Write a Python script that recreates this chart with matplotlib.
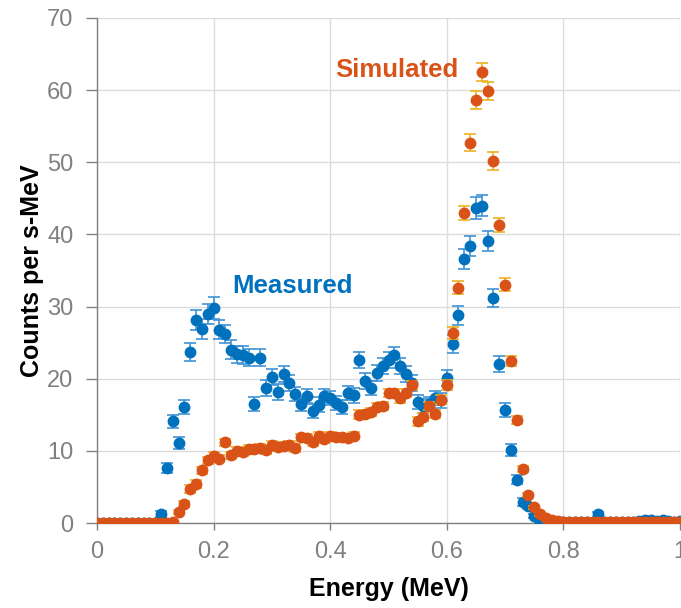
import numpy as np
import matplotlib
matplotlib.use("Agg")
import matplotlib.pyplot as plt

plt.rcParams['font.family'] = ['Liberation Sans', 'DejaVu Sans']

# Energy bins (MeV)
energy = [round(0.01 * i, 2) for i in range(101)]

# Measured spectrum, counts per s-MeV
measured = [
    0, 0, 0, 0, 0, 0, 0, 0, 0, 0, 0,
    1.3, 7.6, 14.1, 11.1, 16.1, 23.7, 28.1, 26.9, 29.0, 29.8,
    26.8, 26.2, 24.0, 23.4, 23.3, 22.9, 16.5, 22.9, 18.7, 20.2,
    18.2, 20.7, 19.4, 17.9, 16.5, 17.6, 15.5, 16.4, 17.6, 17.3,
    16.6, 16.1, 18.0, 17.7, 22.6, 19.7, 18.7, 20.8, 21.8, 22.6,
    23.3, 21.8, 20.7, 19.4, 16.8, 16.2, 16.5, 17.3, 17.0, 20.1,
    24.8, 28.8, 36.6, 38.4, 43.7, 44.0, 39.1, 31.2, 22.0, 15.7,
    10.1, 6.0, 2.9, 2.4, 1.0, 0.3, 0.2, 0.2, 0.2, 0.2,
    0.2, 0.2, 0.2, 0.2, 0.2, 1.2, 0.1, 0.1, 0.1, 0.1,
    0.1, 0.1, 0.3, 0.4, 0.4, 0.3, 0.4, 0.3, 0.2, 0.3,
]
measured_err = [
    0, 0, 0, 0, 0, 0, 0, 0, 0, 0, 0,
    0.4, 0.7, 0.9, 0.8, 1.0, 1.2, 1.4, 1.4, 1.4, 1.5,
    1.3, 1.3, 1.3, 1.2, 1.2, 1.2, 1.0, 1.2, 1.1, 1.1,
    1.1, 1.1, 1.1, 1.0, 1.0, 1.0, 1.0, 1.0, 1.0, 1.0,
    1.0, 1.0, 1.0, 1.0, 1.1, 1.1, 1.0, 1.1, 1.1, 1.1,
    1.1, 1.1, 1.1, 1.1, 1.0, 1.0, 1.0, 1.0, 1.0, 1.1,
    1.2, 1.3, 1.4, 1.4, 1.5, 1.5, 1.4, 1.3, 1.1, 1.0,
    0.8, 0.6, 0.5, 0.4, 0.3, 0.2, 0.2, 0.2, 0.2, 0.2,
    0.2, 0.2, 0.2, 0.2, 0.2, 0.3, 0.1, 0.1, 0.1, 0.1,
    0.1, 0.1, 0.2, 0.2, 0.2, 0.2, 0.2, 0.2, 0.2, 0.2,
]

# Simulated spectrum, counts per s-MeV
simulated = [
    0, 0, 0, 0, 0, 0, 0, 0, 0, 0, 0, 0, 0,
    0.2, 1.5, 2.6, 4.7, 5.4, 7.3, 8.7, 9.3,
    8.9, 11.2, 9.4, 10.0, 9.8, 10.3, 10.3, 10.4, 10.1, 10.8,
    10.5, 10.7, 10.8, 10.4, 11.9, 11.8, 11.2, 12.1, 11.6, 12.1,
    11.9, 11.9, 11.8, 12.1, 15.0, 15.1, 15.4, 16.1, 16.2, 18.0,
    18.0, 17.3, 18.0, 19.1, 14.1, 14.7, 16.2, 15.1, 17.1, 19.1,
    26.3, 32.6, 43.0, 52.7, 58.6, 62.5, 59.9, 50.2, 41.3, 33.0,
    22.5, 14.3, 7.5, 3.9, 2.2, 1.2, 0.7, 0.4, 0.3, 0.2,
    0.1, 0.1, 0.1, 0.1, 0.1, 0.1, 0.1, 0.1, 0.1, 0.1,
    0.1, 0.1, 0.1, 0.1, 0.1, 0.1, 0.1, 0.1, 0.1, 0.1,
]
simulated_err = [
    0, 0, 0, 0, 0, 0, 0, 0, 0, 0, 0, 0, 0,
    0.1, 0.3, 0.4, 0.5, 0.5, 0.5, 0.5, 0.5,
    0.5, 0.5, 0.5, 0.5, 0.5, 0.5, 0.5, 0.5, 0.5, 0.5,
    0.5, 0.5, 0.5, 0.5, 0.5, 0.5, 0.5, 0.5, 0.5, 0.5,
    0.5, 0.5, 0.5, 0.5, 0.6, 0.6, 0.6, 0.6, 0.6, 0.6,
    0.6, 0.6, 0.6, 0.6, 0.6, 0.6, 0.6, 0.6, 0.6, 0.7,
    0.8, 0.9, 1.0, 1.2, 1.25, 1.3, 1.25, 1.2, 1.0, 0.9,
    0.7, 0.6, 0.4, 0.3, 0.2, 0.2, 0.1, 0.1, 0.1, 0.1,
    0, 0, 0, 0, 0, 0, 0, 0, 0, 0,
    0, 0, 0, 0, 0, 0, 0, 0, 0, 0,
]

blue = '#0072BD'
blue_err = '#3F93D6'
orange = '#D95319'
orange_err = '#EDB120'
axis_gray = '#808080'

fig = plt.figure(figsize=(6.81, 6.08), dpi=100)
ax = fig.add_axes([97 / 681, 85 / 608, 583 / 681, 505 / 608])

ax.errorbar(energy, measured, yerr=measured_err, fmt='o', color=blue,
            ecolor=blue_err, elinewidth=1.2, capsize=4.3, capthick=1.2,
            markersize=7.5, markeredgecolor=blue, zorder=3)
ax.errorbar(energy, simulated, yerr=simulated_err, fmt='o', color=orange,
            ecolor=orange_err, elinewidth=1.2, capsize=4.3, capthick=1.2,
            markersize=7.5, markeredgecolor=orange, zorder=4)

ax.set_xlim(0, 1)
ax.set_ylim(0, 70)
ax.set_xticks([0, 0.2, 0.4, 0.6, 0.8, 1])
ax.set_xticklabels(['0', '0.2', '0.4', '0.6', '0.8', '1'])
ax.set_yticks(range(0, 71, 10))

ax.grid(True, color='#DCDCDC', linewidth=1)
ax.set_axisbelow(True)
for side in ['top', 'right']:
    ax.spines[side].set_visible(False)
for side in ['left', 'bottom']:
    ax.spines[side].set_color(axis_gray)
    ax.spines[side].set_linewidth(1)
ax.tick_params(colors=axis_gray, labelsize=17, width=1, direction='out')
ax.tick_params(axis='y', length=8, pad=9)
ax.tick_params(axis='x', length=5, pad=8)

ax.set_xlabel('Energy (MeV)', fontsize=18, fontweight='bold', color='black', labelpad=10)
ax.set_ylabel('Counts per s-MeV', fontsize=18, fontweight='bold', color='black', labelpad=2)

ax.text(0.515, 62.8, 'Simulated', color=orange, fontsize=18.5, fontweight='bold',
        ha='center', va='center')
ax.text(0.335, 32.9, 'Measured', color=blue, fontsize=18.5, fontweight='bold',
        ha='center', va='center')

fig.savefig('out.png', dpi=100)
